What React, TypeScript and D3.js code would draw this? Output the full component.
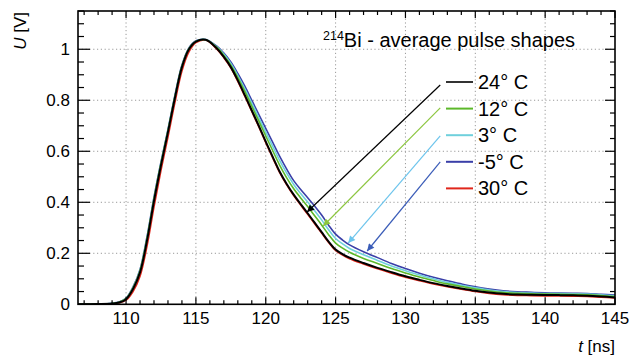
import React from "react";
import * as d3 from "d3";

const T = [106.5, 108, 109, 109.5, 110, 110.5, 111, 111.5, 112, 112.5, 113, 113.5, 114, 114.5, 115, 115.7, 116.5, 117, 117.5, 118, 118.5, 119, 119.5, 120, 120.5, 121, 121.5, 122, 122.5, 123, 123.5, 124, 124.5, 125, 125.5, 126, 127, 128, 129, 130, 131, 132, 133, 134, 135, 136, 137, 138, 139, 140, 141, 142, 143, 144, 145];

const s24 = [0, 0.001, 0.003, 0.007, 0.02, 0.06, 0.125, 0.25, 0.405, 0.545, 0.675, 0.81, 0.93, 1.0, 1.03, 1.037, 1.003, 0.97, 0.93, 0.878, 0.82, 0.76, 0.7, 0.638, 0.578, 0.52, 0.472, 0.43, 0.393, 0.357, 0.32, 0.283, 0.246, 0.215, 0.197, 0.183, 0.162, 0.143, 0.126, 0.11, 0.096, 0.083, 0.072, 0.062, 0.053, 0.046, 0.041, 0.038, 0.037, 0.036, 0.036, 0.035, 0.034, 0.031, 0.027];
const s12 = [0, 0.001, 0.003, 0.008, 0.022, 0.064, 0.131, 0.257, 0.412, 0.551, 0.68, 0.814, 0.933, 1.002, 1.031, 1.037, 1.007, 0.976, 0.938, 0.889, 0.835, 0.777, 0.719, 0.66, 0.602, 0.545, 0.496, 0.453, 0.417, 0.383, 0.347, 0.311, 0.273, 0.24, 0.22, 0.204, 0.18, 0.16, 0.14, 0.123, 0.107, 0.093, 0.08, 0.07, 0.06, 0.052, 0.046, 0.043, 0.041, 0.04, 0.039, 0.038, 0.037, 0.034, 0.03];
const s3 = [0, 0.001, 0.004, 0.008, 0.023, 0.066, 0.134, 0.261, 0.416, 0.555, 0.683, 0.817, 0.935, 1.003, 1.032, 1.038, 1.009, 0.981, 0.944, 0.897, 0.845, 0.789, 0.732, 0.675, 0.619, 0.563, 0.514, 0.47, 0.434, 0.401, 0.367, 0.331, 0.292, 0.258, 0.237, 0.219, 0.194, 0.172, 0.15, 0.132, 0.115, 0.1, 0.086, 0.075, 0.065, 0.056, 0.05, 0.046, 0.044, 0.042, 0.042, 0.041, 0.04, 0.037, 0.033];
const sm5 = [0, 0.001, 0.004, 0.009, 0.024, 0.068, 0.137, 0.265, 0.42, 0.558, 0.686, 0.82, 0.938, 1.005, 1.033, 1.038, 1.012, 0.985, 0.95, 0.905, 0.855, 0.8, 0.745, 0.69, 0.635, 0.58, 0.53, 0.485, 0.45, 0.418, 0.385, 0.35, 0.31, 0.275, 0.252, 0.233, 0.206, 0.183, 0.16, 0.14, 0.122, 0.106, 0.092, 0.08, 0.069, 0.06, 0.053, 0.049, 0.047, 0.045, 0.044, 0.043, 0.042, 0.039, 0.036];
const s30 = [0, 0.001, 0.002, 0.005, 0.016, 0.05, 0.11, 0.228, 0.382, 0.525, 0.656, 0.792, 0.915, 0.99, 1.026, 1.036, 1.0, 0.967, 0.927, 0.874, 0.816, 0.756, 0.696, 0.634, 0.574, 0.516, 0.468, 0.426, 0.389, 0.353, 0.316, 0.279, 0.242, 0.211, 0.193, 0.179, 0.158, 0.139, 0.122, 0.106, 0.092, 0.08, 0.069, 0.059, 0.05, 0.043, 0.038, 0.035, 0.034, 0.033, 0.033, 0.032, 0.031, 0.028, 0.025];

const legendLabels = ["24° C", "12° C", "3° C", "-5° C", "30° C"];
const seriesColors = ["#000000", "#5cb82a", "#6fd0dc", "#3a3fa8", "#e0261b"];
const seriesData = [s24, s12, s3, sm5, s30];
const drawOrder = [4, 3, 2, 1, 0];

const arrowStartT = [132.49, 132.49, 132.49, 132.49];
const arrowStartV = [0.86, 0.77, 0.66, 0.558];
const arrowEndT = [122.96, 124.11, 125.9, 127.26];
const arrowEndV = [0.362, 0.307, 0.24, 0.209];
const arrowColors = ["#000000", "#8cc63f", "#6cc4ec", "#3a5cb8"];

const xTicks = [110, 115, 120, 125, 130, 135, 140, 145];
const yTicks = [0, 0.2, 0.4, 0.6, 0.8, 1];
const yTickLabels = ["0", "0.2", "0.4", "0.6", "0.8", "1"];

const W = 629, H = 358;
const L = 78, R = 615, TOP = 11, B = 304.3;

export default function App() {
  const x = d3.scaleLinear().domain([106.56, 145]).range([L, R]);
  const y = d3.scaleLinear().domain([0, 1.15]).range([B, TOP]);
  const line = d3
    .line<number>()
    .x((_, i) => x(T[i]))
    .y((d) => y(d))
    .curve(d3.curveCatmullRom.alpha(0.5));

  const xMinor = d3.range(107, 145.01, 1);
  const yMinor = d3.range(0, 1.151, 0.05);
  const font = "'Liberation Sans', Arial, Helvetica, sans-serif";

  const legX1 = 446, legX2 = 473, legText = 478, legY0 = 82, legDy = 26.6;

  return (
    <div style={{ position: "fixed", left: 0, top: 0 }}>
      <svg width={W} height={H} style={{ display: "block", background: "#fff" }} fontFamily={font}>
        <defs>
          <clipPath id="plot">
            <rect x={L} y={TOP} width={R - L} height={B - TOP} />
          </clipPath>
          {arrowColors.map((c, i) => (
            <marker key={i} id={`ah${i}`} viewBox="0 0 10 10" refX="10" refY="5" markerWidth="10" markerHeight="7" orient="auto" markerUnits="userSpaceOnUse">
              <path d="M0,0 L10,5 L0,10 z" fill={c} />
            </marker>
          ))}
        </defs>
        {/* grid */}
        <g stroke="#9a9a9a" strokeWidth={1} strokeDasharray="1.2,2.6">
          {xTicks.filter((t) => t < 145).map((t) => (
            <line key={"gx" + t} x1={x(t)} x2={x(t)} y1={TOP} y2={B} />
          ))}
          {yTicks.filter((v) => v > 0).map((v) => (
            <line key={"gy" + v} x1={L} x2={R} y1={y(v)} y2={y(v)} />
          ))}
        </g>
        {/* curves */}
        <g clipPath="url(#plot)" fill="none">
          {drawOrder.map((i) => (
            <path key={i} d={line(seriesData[i]) || ""} stroke={seriesColors[i]} strokeWidth={i === 0 ? 2 : 1.6} />
          ))}
        </g>
        {/* arrows */}
        {arrowColors.map((c, i) => (
          <line key={"ar" + i} x1={x(arrowStartT[i])} y1={y(arrowStartV[i])} x2={x(arrowEndT[i])} y2={y(arrowEndV[i])} stroke={c} strokeWidth={1.2} markerEnd={`url(#ah${i})`} />
        ))}
        {/* frame */}
        <rect x={L} y={TOP} width={R - L} height={B - TOP} fill="none" stroke="#000" strokeWidth={1.6} />
        {/* ticks */}
        <g stroke="#000" strokeWidth={1.2}>
          {yMinor.map((v, i) => {
            const major = Math.abs(v * 5 - Math.round(v * 5)) < 1e-6;
            return (
              <g key={"yt" + i}>
                <line x1={L} x2={L + (major ? 12 : 6)} y1={y(v)} y2={y(v)} />
                <line x1={R} x2={R - (major ? 10 : 5)} y1={y(v)} y2={y(v)} />
              </g>
            );
          })}
          {xMinor.map((t) => {
            const major = t % 5 === 0;
            return (
              <g key={"xt" + t}>
                <line x1={x(t)} x2={x(t)} y1={B} y2={B - (major ? 7 : 4)} />
                <line x1={x(t)} x2={x(t)} y1={TOP} y2={TOP + (major ? 7 : 4)} />
              </g>
            );
          })}
        </g>
        {/* tick labels */}
        <g fontSize={17} fill="#000">
          {yTicks.map((v, i) => (
            <text key={"yl" + v} x={L - 8} y={y(v) + 6} textAnchor="end">
              {yTickLabels[i]}
            </text>
          ))}
          {xTicks.map((t) => (
            <text key={"xl" + t} x={x(t)} y={324} textAnchor="middle">
              {t}
            </text>
          ))}
        </g>
        {/* axis titles */}
        <text transform="translate(26,12) rotate(-90)" textAnchor="end" fontSize={17}>
          <tspan fontStyle="italic">U</tspan> [V]
        </text>
        <text x={R} y={352} textAnchor="end" fontSize={17}>
          <tspan fontStyle="italic">t</tspan> [ns]
        </text>
        {/* title */}
        <text x={323} y={47} fontSize={20}>
          <tspan fontSize={12.5} dy={-7.5}>214</tspan>
          <tspan dy={7.5}>Bi - average pulse shapes</tspan>
        </text>
        {/* legend */}
        {legendLabels.map((lab, i) => (
          <g key={"lg" + i}>
            <line x1={legX1} x2={legX2} y1={legY0 + i * legDy} y2={legY0 + i * legDy} stroke={seriesColors[i]} strokeWidth={i === 0 ? 1.6 : 2} />
            <text x={legText} y={legY0 + i * legDy + 7} fontSize={20}>
              {lab}
            </text>
          </g>
        ))}
      </svg>
    </div>
  );
}
